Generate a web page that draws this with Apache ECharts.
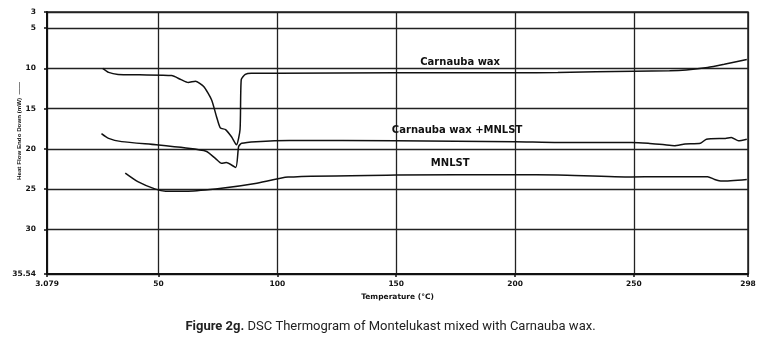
<!DOCTYPE html>
<html>
<head>
<meta charset="utf-8">
<script src="https://cdn.jsdelivr.net/npm/echarts@6/dist/echarts.min.js"></script>
<style>
html,body{margin:0;padding:0;background:#fff;}
#c{width:781px;height:353px;}
</style>
</head>
<body>
<div id="c"></div>
<script>
// Tick values and labels
const xTickValues = [3.079, 50, 100, 150, 200, 250, 298];
const xTickLabels = ['3.079', '50', '100', '150', '200', '250', '298'];
const yTickValues = [3, 5, 10, 15, 20, 25, 30, 35.54];
const yTickLabels = ['3', '5', '10', '15', '20', '25', '30', '35.54'];

// Carnauba wax
const waxT = [26.5, 29, 33, 42, 55.5, 59.5, 62.5, 65.5, 69, 72.3, 74.4, 76, 78.2, 80.7, 82.8, 84.3, 84.8, 86.5, 89, 100, 150, 200, 218, 250, 265, 272, 281, 288, 297.5];
const waxQ = [10.0, 10.5, 10.75, 10.8, 10.9, 11.4, 11.75, 11.6, 12.25, 13.9, 16, 17.4, 17.6, 18.5, 19.5, 17.6, 11.4, 10.75, 10.6, 10.6, 10.55, 10.55, 10.5, 10.35, 10.3, 10.2, 9.9, 9.5, 8.9];

// Carnauba wax + MNLST
const mixT = [26, 29, 34.5, 49, 61.5, 70, 74, 76.5, 78.5, 82.5, 83.7, 85, 91, 105, 150, 200, 218, 249, 256, 263, 267, 271.5, 278, 280.5, 288.5, 291, 294, 297.5];
const mixQ = [18.1, 18.7, 19.1, 19.5, 19.9, 20.3, 21.2, 21.8, 21.7, 22.3, 19.7, 19.3, 19.1, 18.95, 19.0, 19.1, 19.2, 19.2, 19.3, 19.5, 19.6, 19.4, 19.3, 18.8, 18.7, 18.6, 19.0, 18.8];

// MNLST
const mnT = [36, 41.5, 48.7, 53, 62.5, 76.5, 90.7, 104.5, 150, 200, 218, 249, 260, 281, 284, 287, 297.5];
const mnQ = [23.0, 24.1, 25.0, 25.25, 25.25, 24.9, 24.3, 23.5, 23.25, 23.2, 23.25, 23.5, 23.45, 23.45, 23.8, 24.0, 23.8];

const seriesNames = ['Carnauba wax', 'Carnauba wax +MNLST', 'MNLST'];
const labelPos = [[176.9, 9.2], [175.6, 17.66], [172.7, 21.76]];
const yAxisTitle = 'Heat Flow Endo Down (mW)  ——';

const zip = (a, b) => a.map((v, i) => [v, b[i]]);
const lbl = (name, pos) => ({
  symbol: 'circle', symbolSize: 0, silent: true,
  data: [{ coord: pos, value: name }],
  label: { show: true, position: 'inside', formatter: name, color: '#111', fontFamily: 'DejaVu Sans, sans-serif', fontWeight: 'bold', fontSize: 10 },
  itemStyle: { color: 'transparent' }
});

const chart = echarts.init(document.getElementById('c'), null, { renderer: 'canvas' });
const lineStyle = { color: '#111', width: 1.5 };
const tickFont = { color: '#111', fontFamily: 'DejaVu Sans, sans-serif', fontWeight: 'bold', fontSize: 7.5 };

chart.setOption({
  animation: false,
  backgroundColor: '#fff',
  grid: { left: 47, right: 33, top: 12, bottom: 79, containLabel: false, outerBoundsMode: 'none', show: true, borderColor: '#222', borderWidth: 1.5 },
  title: {
    text: '{b|Figure 2g.} DSC Thermogram of Montelukast mixed with Carnauba wax.',
    left: 'center', top: 315,
    textStyle: {
      fontFamily: 'Liberation Sans Narrow, Roboto, sans-serif', fontSize: 13, fontWeight: 'normal', color: '#222',
      rich: { b: { fontFamily: 'Liberation Sans Narrow, Roboto, sans-serif', fontSize: 13, fontWeight: 'bold', color: '#222' } }
    }
  },
  graphic: [{
    type: 'text', x: 19, y: 131, rotation: Math.PI / 2, silent: true,
    style: { text: yAxisTitle, fill: '#111', font: 'bold 6.2px "Liberation Sans", Arial, sans-serif', align: 'center', verticalAlign: 'middle' }
  }],
  xAxis: {
    type: 'value', min: 3.079, max: 298,
    name: 'Temperature (°C)', nameLocation: 'middle', nameGap: 15,
    nameTextStyle: { color: '#111', fontFamily: 'DejaVu Sans, sans-serif', fontWeight: 'bold', fontSize: 7.5 },
    axisLine: { show: true, lineStyle: { color: '#111', width: 2 } },
    axisTick: { show: true, length: 3, customValues: xTickValues, lineStyle: { color: '#111', width: 1.5 } },
    axisLabel: {
      customValues: xTickValues, margin: 6, showMinLabel: true, showMaxLabel: true, ...tickFont,
      formatter: v => { const i = xTickValues.findIndex(t => Math.abs(t - v) < 1e-6); return i >= 0 ? xTickLabels[i] : ''; }
    },
    splitLine: { show: true, lineStyle: { color: '#222', width: 1.3 } }
  },
  yAxis: {
    type: 'value', min: 3, max: 35.54, inverse: true,
    axisLine: { show: true, lineStyle: { color: '#111', width: 2 } },
    axisTick: { show: true, length: 3, customValues: yTickValues, lineStyle: { color: '#111', width: 1.5 } },
    axisLabel: {
      customValues: yTickValues, margin: 11, showMinLabel: true, showMaxLabel: true, ...tickFont,
      formatter: v => { const i = yTickValues.findIndex(t => Math.abs(t - v) < 1e-6); return i >= 0 ? yTickLabels[i] : ''; }
    },
    splitLine: { show: true, lineStyle: { color: '#222', width: 1.3 } }
  },
  series: [
    { name: seriesNames[0], type: 'line', data: zip(waxT, waxQ), showSymbol: false, smooth: 0.2, lineStyle, markPoint: lbl(seriesNames[0], labelPos[0]) },
    { name: seriesNames[1], type: 'line', data: zip(mixT, mixQ), showSymbol: false, smooth: 0.2, lineStyle, markPoint: lbl(seriesNames[1], labelPos[1]) },
    { name: seriesNames[2], type: 'line', data: zip(mnT, mnQ), showSymbol: false, smooth: 0.2, lineStyle, markPoint: lbl(seriesNames[2], labelPos[2]) }
  ]
});
</script>
</body>
</html>
